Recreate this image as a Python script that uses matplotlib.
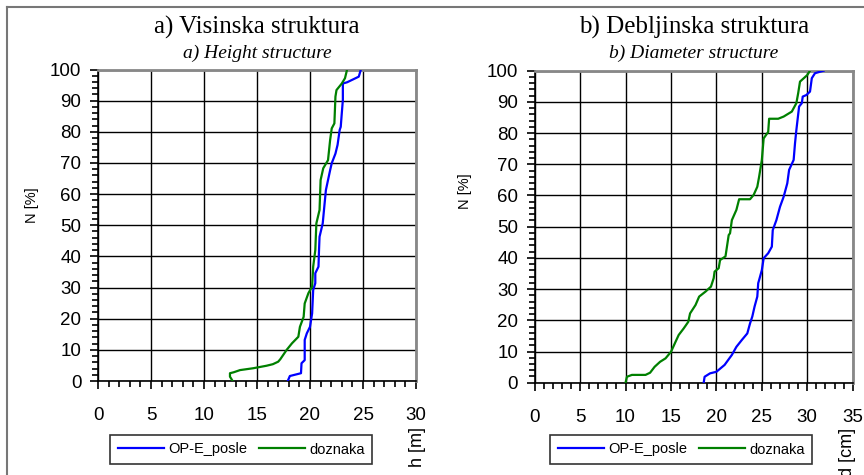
import matplotlib
matplotlib.use("Agg")
import matplotlib.pyplot as plt
from matplotlib.ticker import MultipleLocator
from matplotlib.lines import Line2D

# ---- data ----
h_posle_x = [17.9, 18.1, 19.15, 19.2, 19.5, 19.5, 19.7, 20.0, 20.2, 20.3, 20.5, 20.5, 20.8, 20.85, 20.9,
             21.2, 21.35, 21.5, 21.7, 21.9, 22.05, 22.4, 22.6, 22.8, 22.9, 23.0, 23.1, 23.1, 23.5, 24.6, 24.8]
h_posle_n = [0, 1.6, 2.5, 5.7, 6.7, 13.2, 15.3, 17.4, 21.7, 29.2, 31.4, 34.6, 36.7, 42, 46.3,
             50.6, 56, 61.3, 64.5, 67.7, 69.9, 73, 75.8, 80.6, 81.6, 86, 90.2, 95.5, 95.9, 97.7, 100]
h_dozn_x = [12.7, 12.45, 12.45, 12.8, 13.4, 14.65, 15.9, 16.5, 17.0, 17.2, 17.8, 18.3, 18.9, 19.05, 19.4,
            19.5, 19.85, 20.2, 20.3, 20.5, 20.6, 20.9, 21.0, 21.25, 21.7, 21.9, 22.05, 22.3, 22.4, 22.5,
            23.0, 23.3, 23.5]
h_dozn_n = [0, 1.4, 2.5, 2.8, 3.5, 4.1, 4.9, 5.4, 6.2, 7.0, 10, 12.1, 14.2, 17.4, 20.6,
            24.9, 28.2, 30.3, 36.7, 42, 50.6, 54.9, 64.5, 68.3, 70.9, 77.4, 81.1, 82.7, 91.3, 93.4,
            95.5, 97.2, 100]
d_posle_x = [18.6, 18.7, 19.3, 20.0, 20.9, 21.7, 22.2, 22.8, 23.4, 23.7, 23.95, 24.2, 24.5, 24.6, 24.7,
             25.0, 25.2, 25.7, 26.1, 26.2, 26.6, 27.0, 27.4, 27.8, 28.0, 28.5, 28.65, 28.8, 29.1, 29.4,
             29.5, 29.9, 30.3, 30.5, 30.85, 31.8]
d_posle_n = [0, 1.9, 3.0, 3.5, 5.7, 8.9, 11.5, 13.7, 15.8, 19, 21.2, 24.4, 27.6, 31.9, 32.9,
             36.1, 39.9, 41.5, 43.6, 48.9, 52.1, 56.4, 59.6, 63.9, 68.2, 71.4, 76.7, 81, 88.5, 89.6,
             91.7, 92.2, 93.3, 97.6, 99.2, 100]
d_dozn_x = [10.0, 10.15, 10.7, 12.2, 12.7, 13.2, 13.8, 14.4, 15.0, 15.5, 15.85, 16.4, 16.9, 17.1, 17.7,
            18.1, 18.8, 19.4, 19.7, 19.8, 20.25, 20.4, 21.0, 21.35, 21.5, 21.7, 22.2, 22.5, 23.7, 24.1,
            24.5, 24.7, 25.0, 25.2, 25.7, 25.8, 26.8, 27.4, 28.3, 28.8, 29.0, 29.2, 30.0, 30.3]
d_dozn_n = [0, 1.9, 2.5, 2.5, 3.2, 5.1, 6.7, 7.8, 9.9, 13.1, 15.3, 17.4, 19.5, 22.2, 24.9,
            27.6, 29.2, 30.8, 33.5, 35.6, 36.7, 39.3, 40.5, 47.3, 47.9, 52.1, 55.4, 58.8, 58.8, 60.2,
            62.8, 66, 71.4, 78.3, 80.4, 84.6, 84.6, 85.3, 86.9, 89.6, 92.8, 96.5, 98.6, 100]

series_names = ["OP-E_posle", "doznaka"]
titles = ["a) Visinska struktura", "b) Debljinska struktura"]
subtitles = ["a) Height structure", "b) Diameter structure"]
xlabels = ["h [m]", "d [cm]"]
ylabel = "N [%]"
xmax = [30, 35]

SANS = "Liberation Sans"
SERIF = "Liberation Serif"

fig = plt.figure(figsize=(8.64, 4.75), dpi=100)
W, H = 864.0, 475.0

# outer border
fig.add_artist(Line2D([7 / W, 7 / W], [0, 1 - 7 / H], color="#777777", lw=1.5, transform=fig.transFigure))
fig.add_artist(Line2D([7 / W, 1], [1 - 7 / H, 1 - 7 / H], color="#777777", lw=1.5, transform=fig.transFigure))

axes_px = [(98, 416, 69.5, 381), (534.7, 852.7, 70.7, 382.7)]
data = [((h_posle_x, h_posle_n), (h_dozn_x, h_dozn_n)),
        ((d_posle_x, d_posle_n), (d_dozn_x, d_dozn_n))]
ylab_pos = [(32, 205), (465, 191)]
xlab_pos = [(417, 447), (848, 452)]
leg_px = [(110, 372, 434, 465), (549, 813, 434, 465)]

for i in range(2):
    l, r, t, b = axes_px[i]
    ax = fig.add_axes([l / W, 1 - b / H, (r - l) / W, (b - t) / H])
    (bx, bn), (gx, gn) = data[i]
    l1, = ax.plot(bx, bn, color="#0000FF", lw=1.6, label=series_names[0], zorder=3)
    l2, = ax.plot(gx, gn, color="#008000", lw=1.6, label=series_names[1], zorder=3)
    ax.set_xlim(0, xmax[i])
    ax.set_ylim(0, 100)
    ax.xaxis.set_major_locator(MultipleLocator(5))
    ax.xaxis.set_minor_locator(MultipleLocator(1))
    ax.yaxis.set_major_locator(MultipleLocator(10))
    ax.yaxis.set_minor_locator(MultipleLocator(2))
    ax.grid(True, which="major", color="black", lw=1.0)
    ax.set_axisbelow(True)
    ax.tick_params(axis="both", which="major", direction="out", length=6, width=1.2,
                   labelsize=13.5, color="black")
    ax.tick_params(axis="both", which="minor", direction="out", length=4, width=1.2, color="black")
    ax.tick_params(axis="x", which="major", pad=13)
    ax.tick_params(axis="y", which="major", pad=6)
    for lab in ax.get_xticklabels() + ax.get_yticklabels():
        lab.set_fontfamily(SANS)
    ax.spines["left"].set_color("black")
    ax.spines["bottom"].set_color("black")
    ax.spines["left"].set_linewidth(1.2)
    ax.spines["bottom"].set_linewidth(1.2)
    for s in ("top", "right"):
        ax.spines[s].set_color("#888888")
        ax.spines[s].set_linewidth(2.0)

    cx = (l + r) / 2 / W
    fig.text(cx, 1 - 27 / H, titles[i], ha="center", va="center", fontsize=18, family=SERIF)
    fig.text(cx, 1 - 53 / H, subtitles[i], ha="center", va="center", fontsize=14, family=SERIF,
             style="italic")
    fig.text(ylab_pos[i][0] / W, 1 - ylab_pos[i][1] / H, ylabel, rotation=90, ha="center", va="center",
             fontsize=10.5, family=SANS)
    fig.text(xlab_pos[i][0] / W, 1 - xlab_pos[i][1] / H, xlabels[i], rotation=90, ha="center",
             va="center", fontsize=13, family=SANS)

    ll, lr, lt, lb = leg_px[i]
    leg = ax.legend(handles=[l1, l2], loc="center", ncol=2,
                    bbox_to_anchor=((ll + lr) / 2 / W, 1 - (lt + lb) / 2 / H),
                    bbox_transform=fig.transFigure, frameon=True, fancybox=False,
                    prop={"family": SANS, "size": 10.5}, handlelength=3.2, handletextpad=0.25,
                    columnspacing=0.8, borderpad=0.5, borderaxespad=0.0, edgecolor="black")
    leg.get_frame().set_linewidth(1.2)
    leg.get_frame().set_edgecolor("black")

fig.savefig("out.png", dpi=100)
